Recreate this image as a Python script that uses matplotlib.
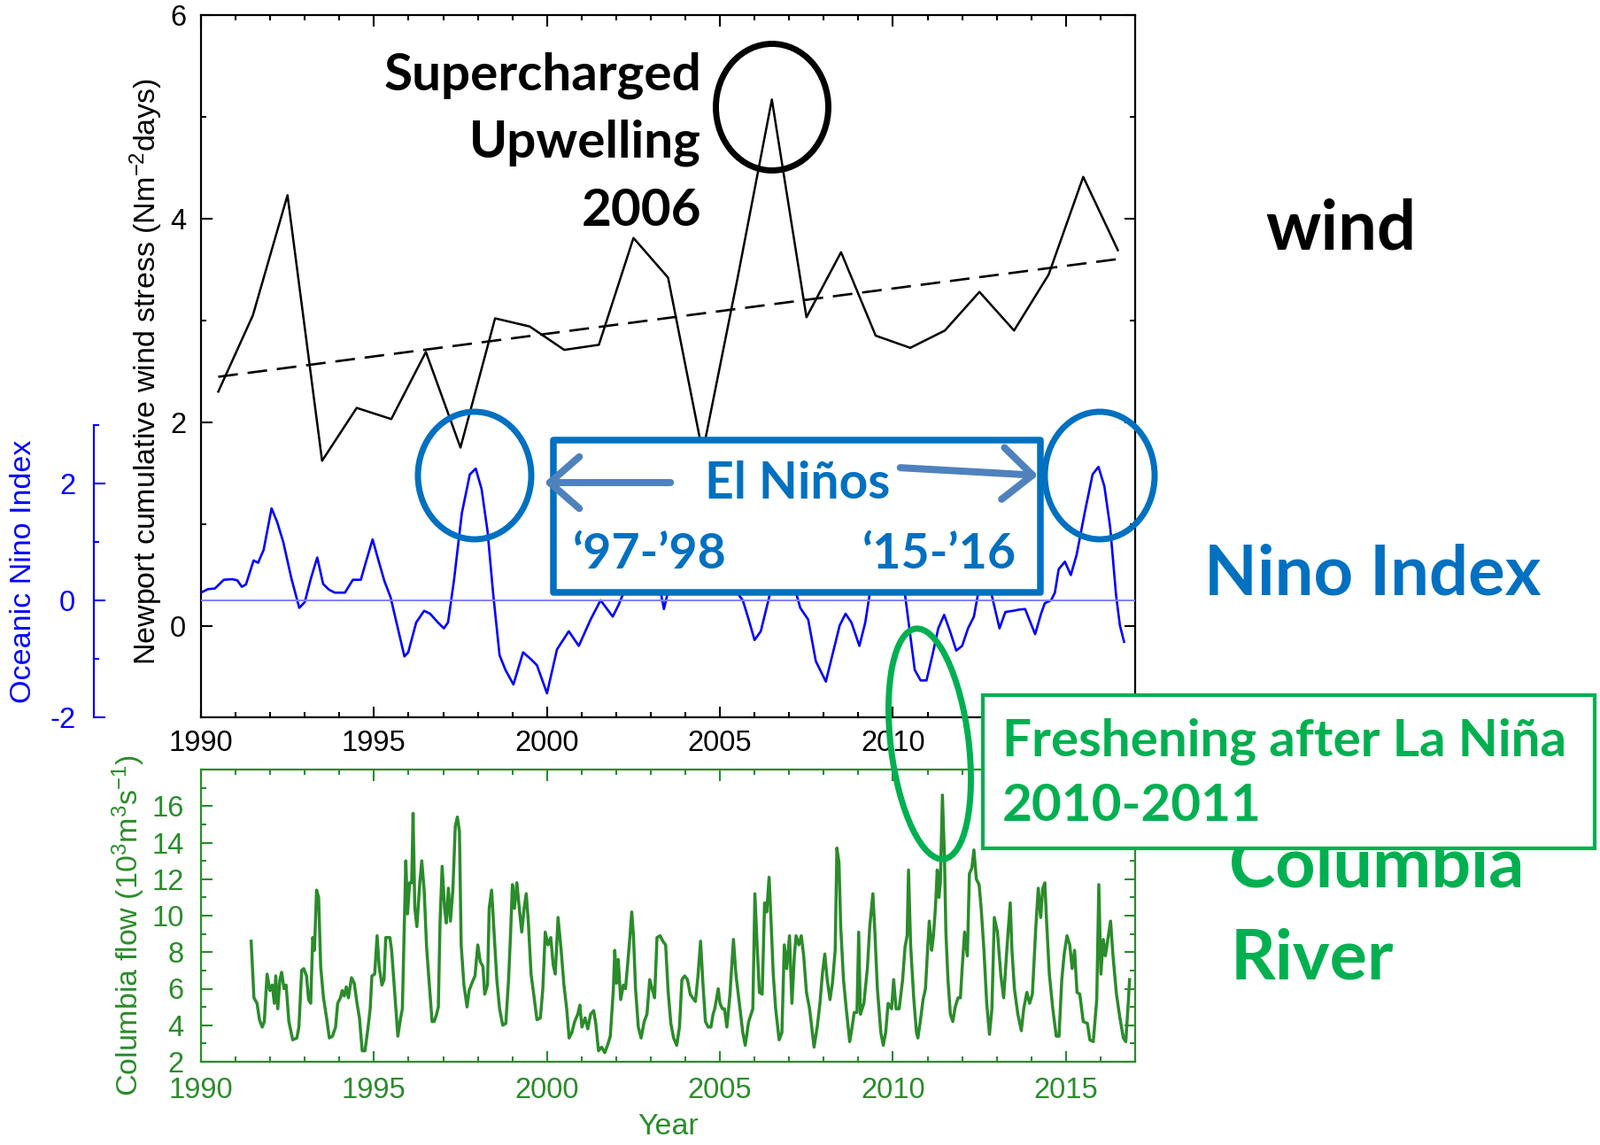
import numpy as np
import matplotlib
matplotlib.use('Agg')
import matplotlib.pyplot as plt
from matplotlib.patches import Ellipse, Rectangle, FancyArrowPatch, ArrowStyle

# ---------------- data ----------------
# annual cumulative wind stress at Newport, plotted at mid-year
wind_years = [1990, 1991, 1992, 1993, 1994, 1995, 1996, 1997, 1998, 1999,
              2000, 2001, 2002, 2003, 2004, 2005, 2006, 2007, 2008, 2009,
              2010, 2011, 2012, 2013, 2014, 2015, 2016]
wind_vals = [2.30, 3.05, 4.23, 1.62, 2.14, 2.03, 2.69, 1.75, 3.02, 2.94,
             2.71, 2.76, 3.81, 3.42, 1.70, 3.40, 5.17, 3.03, 3.67, 2.85,
             2.73, 2.90, 3.28, 2.90, 3.45, 4.41, 3.69]

# Oceanic Nino Index
nino_year = [1990.0, 1990.2, 1990.4, 1990.66, 1990.9, 1991.05, 1991.18, 1991.3, 1991.52, 1991.65,
             1991.81, 1992.04, 1992.2, 1992.38, 1992.61, 1992.84, 1993.0, 1993.18, 1993.36, 1993.53,
             1993.7, 1993.87, 1994.16, 1994.39, 1994.62, 1994.73, 1994.96, 1995.13, 1995.3, 1995.48,
             1995.65, 1995.88, 1995.99, 1996.22, 1996.45, 1996.62, 1996.85, 1997.02, 1997.14, 1997.31,
             1997.54, 1997.77, 1997.94, 1998.11, 1998.28, 1998.45, 1998.63, 1998.8, 1999.03, 1999.31,
             1999.54, 1999.71, 2000.0, 2000.29, 2000.63, 2000.92, 2001.26, 2001.55, 2001.9, 2002.07,
             2002.3, 2002.6, 2002.9, 2003.15, 2003.3, 2003.38, 2003.5, 2003.8, 2004.2, 2004.6,
             2004.9, 2005.2, 2005.49, 2005.66, 2005.83, 2006.0, 2006.18, 2006.4, 2006.6, 2006.9,
             2007.1, 2007.2, 2007.32, 2007.55, 2007.77, 2008.06, 2008.29, 2008.46, 2008.63, 2008.8,
             2009.03, 2009.2, 2009.32, 2009.6, 2009.95, 2010.15, 2010.34, 2010.46, 2010.63, 2010.8,
             2010.97, 2011.14, 2011.31, 2011.48, 2011.65, 2011.83, 2012.0, 2012.17, 2012.34, 2012.45,
             2012.65, 2012.85, 2013.08, 2013.25, 2013.48, 2013.65, 2013.82, 2013.94, 2014.11, 2014.28,
             2014.39, 2014.57, 2014.68, 2014.79, 2014.97, 2015.14, 2015.31, 2015.54, 2015.77, 2015.94,
             2016.11, 2016.28, 2016.45, 2016.56, 2016.68]
nino_vals = [0.13, 0.19, 0.20, 0.35, 0.36, 0.34, 0.23, 0.27, 0.68, 0.64,
             0.86, 1.57, 1.34, 0.99, 0.38, -0.13, -0.03, 0.38, 0.73, 0.28,
             0.18, 0.13, 0.13, 0.35, 0.35, 0.58, 1.04, 0.68, 0.33, 0.05,
             -0.38, -0.96, -0.89, -0.38, -0.18, -0.23, -0.38, -0.48, -0.38, 0.33,
             1.49, 2.15, 2.25, 1.90, 1.19, 0.08, -0.94, -1.19, -1.44, -0.89,
             -1.01, -1.11, -1.59, -0.84, -0.53, -0.78, -0.33, 0.00, -0.28, -0.08,
             0.25, 0.80, 1.20, 0.60, 0.10, -0.15, 0.15, 0.35, 0.30, 0.60,
             0.70, 0.50, 0.13, 0.00, -0.33, -0.68, -0.53, 0.00, 0.50, 0.95,
             0.40, 0.13, -0.13, -0.33, -1.04, -1.39, -0.84, -0.43, -0.23, -0.38,
             -0.78, -0.38, 0.08, 0.70, 1.50, 1.00, 0.13, -0.43, -1.19, -1.37,
             -1.37, -0.94, -0.48, -0.25, -0.53, -0.86, -0.78, -0.48, -0.28, 0.08,
             0.30, 0.10, -0.48, -0.20, -0.18, -0.16, -0.15, -0.33, -0.58, -0.23,
             -0.05, 0.00, 0.13, 0.53, 0.66, 0.43, 0.78, 1.49, 2.15, 2.28,
             1.95, 1.24, 0.08, -0.43, -0.71]

# Columbia River flow (10^3 m^3/s), in four chunks
flow_year_a = [1991.45, 1991.53, 1991.62, 1991.69, 1991.77, 1991.83, 1991.91, 1991.99, 1992.06, 1992.12,
               1992.16, 1992.22, 1992.28, 1992.33, 1992.40, 1992.46, 1992.54, 1992.65, 1992.77, 1992.83,
               1992.91, 1992.97, 1993.05, 1993.11, 1993.17, 1993.23, 1993.28, 1993.34, 1993.40, 1993.46,
               1993.54, 1993.63, 1993.71, 1993.80, 1993.89, 1993.95, 1994.03, 1994.08, 1994.14, 1994.20,
               1994.26, 1994.35, 1994.43, 1994.51, 1994.58, 1994.66, 1994.74, 1994.83, 1994.89, 1994.94,
               1995.02, 1995.09, 1995.15, 1995.23, 1995.29, 1995.34, 1995.46, 1995.51, 1995.61, 1995.69,
               1995.77, 1995.82, 1995.88, 1995.92, 1995.97, 1996.03, 1996.09, 1996.13, 1996.18, 1996.24,
               1996.32, 1996.38, 1996.45, 1996.52, 1996.60, 1996.68, 1996.74, 1996.81, 1996.86, 1996.91,
               1996.97, 1997.04, 1997.09, 1997.15, 1997.21, 1997.28, 1997.35, 1997.41, 1997.47, 1997.52,
               1997.60, 1997.69, 1997.75, 1997.83, 1997.92]
flow_val_a = [8.6, 5.5, 5.2, 4.3, 3.9, 4.2, 6.8, 5.9, 6.2, 5.2,
              6.7, 4.9, 6.5, 6.9, 6.0, 6.2, 4.2, 3.2, 3.3, 3.9,
              7.0, 7.1, 6.7, 5.4, 5.2, 8.8, 8.1, 11.4, 11.0, 7.2,
              5.5, 4.4, 3.3, 3.4, 3.9, 5.2, 5.5, 5.9, 5.6, 6.1,
              5.5, 6.6, 6.3, 5.2, 4.4, 2.6, 2.6, 3.9, 4.9, 6.7,
              6.8, 8.9, 7.2, 6.2, 6.5, 8.8, 8.8, 8.1, 5.5, 3.4,
              4.4, 4.9, 9.9, 13.0, 10.1, 11.8, 11.8, 15.6, 10.4, 9.4,
              11.7, 13.0, 11.4, 8.3, 6.2, 4.2, 4.2, 4.6, 5.0, 9.7,
              12.7, 10.4, 9.6, 11.5, 9.7, 11.4, 14.9, 15.4, 14.6, 8.4,
              6.2, 5.0, 5.9, 6.3, 6.7]

flow_year_b = [1998.00, 1998.07, 1998.15, 1998.20, 1998.28, 1998.33, 1998.40, 1998.47, 1998.55, 1998.63,
               1998.72, 1998.81, 1998.89, 1998.95, 1999.00, 1999.06, 1999.13, 1999.20, 1999.27, 1999.34,
               1999.40, 1999.46, 1999.54, 1999.63, 1999.71, 1999.81, 1999.88, 1999.95, 2000.03, 2000.11,
               2000.18, 2000.24, 2000.32, 2000.41, 2000.49, 2000.57, 2000.64, 2000.72, 2000.80, 2000.89,
               2000.95, 2001.01, 2001.10, 2001.18, 2001.26, 2001.35, 2001.41, 2001.49, 2001.58, 2001.67,
               2001.75, 2001.83, 2001.92, 2001.96, 2002.01, 2002.06, 2002.13, 2002.21, 2002.27, 2002.33,
               2002.40, 2002.45, 2002.50, 2002.56, 2002.64, 2002.72, 2002.81, 2002.89, 2002.97, 2003.04,
               2003.11, 2003.18, 2003.27, 2003.35, 2003.43, 2003.50, 2003.58, 2003.66, 2003.75, 2003.83,
               2003.90, 2003.98, 2004.06, 2004.14, 2004.21]
flow_val_b = [8.4, 7.5, 7.2, 5.7, 6.2, 10.4, 11.4, 9.1, 6.5, 4.9,
              4.0, 4.1, 6.5, 9.1, 11.7, 10.4, 11.8, 10.4, 9.1, 10.4,
              11.2, 9.7, 6.8, 5.5, 4.3, 4.4, 6.0, 9.1, 8.4, 8.8,
              7.3, 6.8, 9.9, 8.1, 6.2, 4.9, 3.3, 3.6, 4.2, 4.6,
              5.1, 3.9, 4.4, 3.8, 4.6, 4.8, 4.1, 2.6, 2.8, 2.5,
              2.9, 3.4, 6.0, 8.1, 6.3, 7.6, 5.4, 6.2, 6.0, 7.3,
              8.9, 10.2, 8.9, 6.0, 3.9, 3.3, 4.2, 4.6, 6.5, 6.0,
              5.5, 8.8, 8.9, 8.6, 8.4, 5.9, 4.1, 3.3, 2.9, 3.9,
              6.5, 6.7, 6.5, 5.7, 5.5]

flow_year_c = [2004.29, 2004.36, 2004.44, 2004.51, 2004.58, 2004.66, 2004.74, 2004.80, 2004.85, 2004.95,
               2005.00, 2005.07, 2005.13, 2005.20, 2005.29, 2005.39, 2005.46, 2005.56, 2005.66, 2005.73,
               2005.83, 2005.95, 2006.01, 2006.08, 2006.14, 2006.22, 2006.29, 2006.35, 2006.42, 2006.47,
               2006.54, 2006.61, 2006.71, 2006.79, 2006.86, 2006.93, 2007.01, 2007.08, 2007.15, 2007.20,
               2007.28, 2007.35, 2007.42, 2007.50, 2007.59, 2007.72, 2007.81, 2007.89, 2007.96, 2008.03,
               2008.10, 2008.18, 2008.25, 2008.33, 2008.38, 2008.44, 2008.49, 2008.57, 2008.65, 2008.75,
               2008.82, 2008.88, 2008.96, 2009.01, 2009.06, 2009.16, 2009.26, 2009.33, 2009.42, 2009.47,
               2009.55, 2009.65, 2009.72, 2009.79, 2009.86, 2009.96, 2010.02, 2010.09, 2010.18, 2010.28,
               2010.35, 2010.41, 2010.45, 2010.51, 2010.60, 2010.68, 2010.72, 2010.79, 2010.87, 2010.94]
flow_val_c = [5.3, 6.6, 8.6, 6.2, 4.2, 3.9, 3.9, 4.6, 4.9, 6.0,
              5.2, 4.9, 4.9, 3.9, 5.7, 8.7, 6.8, 5.2, 3.6, 2.9,
              4.2, 4.9, 11.2, 8.1, 5.8, 5.7, 10.7, 10.2, 12.1, 10.0,
              6.8, 4.9, 3.2, 3.6, 8.4, 7.1, 8.9, 5.2, 7.8, 8.9,
              8.4, 8.9, 7.8, 5.8, 4.9, 2.8, 3.9, 5.2, 6.8, 7.9,
              6.5, 5.4, 6.3, 8.1, 13.7, 12.9, 9.4, 6.5, 4.9, 3.1,
              3.9, 4.7, 4.7, 9.1, 4.6, 5.2, 7.1, 9.4, 11.2, 9.4,
              6.0, 3.6, 2.9, 3.6, 5.2, 4.9, 6.5, 4.9, 4.9, 6.5,
              8.3, 8.9, 12.5, 8.4, 5.5, 3.6, 3.3, 4.2, 5.4, 6.0]

flow_year_d = [2011.00, 2011.05, 2011.12, 2011.17, 2011.23, 2011.28, 2011.33, 2011.37, 2011.43, 2011.49,
               2011.53, 2011.59, 2011.66, 2011.73, 2011.80, 2011.88, 2011.95, 2012.00, 2012.07, 2012.15,
               2012.21, 2012.28, 2012.34, 2012.41, 2012.49, 2012.55, 2012.63, 2012.71, 2012.79, 2012.86,
               2012.93, 2013.02, 2013.12, 2013.20, 2013.29, 2013.39, 2013.44, 2013.51, 2013.61, 2013.71,
               2013.78, 2013.87, 2013.95, 2014.03, 2014.13, 2014.20, 2014.27, 2014.33, 2014.39, 2014.44,
               2014.52, 2014.62, 2014.72, 2014.80, 2014.88, 2014.95, 2015.03, 2015.11, 2015.18, 2015.25,
               2015.32, 2015.40, 2015.50, 2015.62, 2015.69, 2015.79, 2015.89, 2015.95, 2016.01, 2016.08,
               2016.14, 2016.21, 2016.29, 2016.36, 2016.46, 2016.56, 2016.66, 2016.73, 2016.79, 2016.84]
flow_val_d = [8.1, 9.7, 8.1, 8.9, 10.5, 12.5, 11.0, 11.8, 16.6, 13.1,
              9.1, 6.5, 4.6, 4.2, 5.0, 5.5, 5.5, 7.1, 9.1, 7.8,
              12.3, 12.6, 13.6, 12.0, 11.7, 10.4, 8.1, 5.2, 3.5, 4.9,
              9.9, 9.1, 6.7, 5.5, 8.1, 10.7, 8.1, 6.0, 4.6, 3.7,
              4.9, 5.8, 5.2, 5.7, 9.4, 11.5, 9.9, 11.5, 11.8, 9.7,
              6.8, 4.9, 3.4, 3.4, 6.5, 7.9, 8.9, 8.4, 7.1, 8.1,
              5.8, 5.7, 4.2, 4.1, 3.2, 3.1, 5.4, 11.7, 6.8, 8.7,
              7.8, 8.7, 9.7, 7.8, 5.7, 4.4, 3.3, 3.1, 4.9, 6.5]

flow_year = flow_year_a + flow_year_b + flow_year_c + flow_year_d
flow_vals = flow_val_a + flow_val_b + flow_val_c + flow_val_d

top_xlabels = ['1990', '1995', '2000', '2005', '2010', '']   # 2015 sits under the green box
bot_xlabels = ['1990', '1995', '2000', '2005', '2010', '2015']

# ---------------- style ----------------
W, H = 1807, 1293
plt.rcParams['font.family'] = ['Liberation Sans', 'DejaVu Sans']
plt.rcParams['mathtext.fontset'] = 'custom'
plt.rcParams['mathtext.rm'] = 'Liberation Sans'
plt.rcParams['mathtext.it'] = 'Liberation Sans:italic'
plt.rcParams['lines.scale_dashes'] = False
plt.rcParams['axes.unicode_minus'] = False

BLUE_TXT = '#0070C0'
GREEN_TXT = '#00B050'
ARROW = '#4F81BD'
FLOW_GREEN = '#2A8C2A'
TICK_FS = 23.5
LAB_FS = 24.5

fig = plt.figure(figsize=(W / 100, H / 100), dpi=100)


def fbox(x0, y0, x1, y1):
    # pixel box with top-left origin -> figure fraction rect
    return [x0 / W, 1 - y1 / H, (x1 - x0) / W, (y1 - y0) / H]


# ---------------- top panel: wind + nino ----------------
ax = fig.add_axes(fbox(227, 17, 1282, 810))
wx = np.array(wind_years) + 0.5
ax.plot(wx, wind_vals, color='black', lw=1.8)
coef = np.polyfit(wx, wind_vals, 1)
ax.plot(wx, np.polyval(coef, wx), color='black', lw=1.9, dashes=(16, 8))
ax.set_xlim(1990, 2017)
ax.set_ylim(-0.9, 6)
ax.set_xticks(range(1990, 2016, 5))
ax.set_xticklabels(top_xlabels)
ax.set_xticks(range(1990, 2018), minor=True)
ax.set_yticks([0, 2, 4, 6])
ax.set_yticks([1, 3, 5], minor=True)
ax.set_ylabel('Newport cumulative wind stress (Nm$^{-2}$days)', fontsize=LAB_FS, va='center')
ax.yaxis.set_label_coords(-0.0588, 0.492)
for s in ax.spines.values():
    s.set_linewidth(1.6)

ax2 = ax.twinx()
ax2.plot(nino_year, nino_vals, color='blue', lw=1.9)
ax2.axhline(0, color='#7f7fff', lw=1.4)
ax2.set_ylim(-2, 10)
ax2.set_yticks([-2, 0, 2])
ax2.set_yticks([-1, 1, 3], minor=True)
for k in ['right', 'top', 'bottom']:
    ax2.spines[k].set_visible(False)
ax2.spines['left'].set_position(('outward', 87))
ax2.spines['left'].set_bounds(-2, 3)
ax2.spines['left'].set_color('blue')
ax2.spines['left'].set_linewidth(1.6)
ax2.yaxis.tick_left()
ax2.yaxis.set_label_position('left')
ax2.tick_params(axis='y', which='both', direction='in', colors='blue', width=1.5,
                labelsize=TICK_FS, pad=15)
ax2.tick_params(axis='y', which='major', length=9)
ax2.tick_params(axis='y', which='minor', length=4.5)
ax2.set_ylabel('Oceanic Nino Index', fontsize=LAB_FS, color='blue', va='center')
ax2.yaxis.set_label_coords(-0.1905, 0.208)

ax.tick_params(which='both', direction='in', top=True, right=True, left=True, bottom=True,
               width=1.5, labelsize=TICK_FS)
ax.tick_params(which='major', length=9)
ax.tick_params(which='minor', length=4.5)
ax.tick_params(axis='y', pad=12)
ax.tick_params(axis='x', pad=10)

# ---------------- bottom panel: Columbia flow ----------------
bx = fig.add_axes(fbox(227, 869, 1282, 1199))
bx.plot(flow_year, flow_vals, color=FLOW_GREEN, lw=2.5)
bx.set_xlim(1990, 2017)
bx.set_ylim(2, 18)
bx.set_xticks(range(1990, 2016, 5))
bx.set_xticklabels(bot_xlabels)
bx.set_xticks(range(1990, 2018), minor=True)
bx.set_yticks(range(2, 17, 2))
bx.set_yticks(range(2, 19), minor=True)
for s in bx.spines.values():
    s.set_color(FLOW_GREEN)
    s.set_linewidth(1.6)
bx.tick_params(which='both', direction='in', top=True, right=True, colors=FLOW_GREEN,
               width=1.5, labelsize=TICK_FS)
bx.tick_params(which='major', length=9)
bx.tick_params(which='minor', length=4.5)
bx.tick_params(axis='y', pad=14)
bx.tick_params(axis='x', pad=12)
bx.set_ylabel('Columbia flow (10$^3$m$^3$s$^{-1}$)', fontsize=LAB_FS, color=FLOW_GREEN, va='center')
bx.yaxis.set_label_coords(-0.0777, 0.467)
bx.set_xlabel('Year', fontsize=LAB_FS, color=FLOW_GREEN, va='center')
bx.xaxis.set_label_coords(0.5, -0.224)

# ---------------- annotation overlay (pixel units, top-left origin) ----------------
ov = fig.add_axes([0, 0, 1, 1])
ov.set_xlim(0, W)
ov.set_ylim(H, 0)
ov.axis('off')
ann = dict(family=['Lato', 'DejaVu Sans'], weight='bold')

for txt, yb in [('Supercharged', 102), ('Upwelling', 178), ('2006', 255)]:
    ov.text(792, yb, txt, ha='right', va='baseline', fontsize=42, color='black', **ann)
ov.add_patch(Ellipse((872, 121), 127, 143, fill=False, ec='black', lw=5))

ov.text(1429, 282, 'wind', ha='left', va='baseline', fontsize=56, color='black', **ann)
ov.text(1360, 671, 'Nino Index', ha='left', va='baseline', fontsize=56, color=BLUE_TXT, **ann)
ov.text(1388, 1002, 'Columbia', ha='left', va='baseline', fontsize=57, color=GREEN_TXT,
        zorder=1, **ann)
ov.text(1390, 1105, 'River', ha='left', va='baseline', fontsize=57, color=GREEN_TXT,
        zorder=1, **ann)

# El Nino box
ov.add_patch(Rectangle((625.5, 496.5), 550, 172.5, fc='white', ec=BLUE_TXT, lw=5.4,
                       joinstyle='round', zorder=2))
ov.text(796, 563, 'El Niños', ha='left', va='baseline', fontsize=41, color=BLUE_TXT,
        zorder=3, **ann)
ov.text(647, 642, '\u201897-\u201998', ha='left', va='baseline', fontsize=40, color=BLUE_TXT,
        zorder=3, **ann)
ov.text(1148, 642, '\u201815-\u201916', ha='right', va='baseline', fontsize=40, color=BLUE_TXT,
        zorder=3, **ann)
head = ArrowStyle('->', head_length=24, head_width=21)
ov.add_patch(FancyArrowPatch((760, 545), (612, 545), arrowstyle=head, mutation_scale=1,
                             color=ARROW, lw=5.8, capstyle='round', joinstyle='round', zorder=4))
ov.add_patch(FancyArrowPatch((1014, 528), (1175, 537), arrowstyle=head, mutation_scale=1,
                             color=ARROW, lw=5.8, capstyle='round', joinstyle='round', zorder=4))
ov.add_patch(Ellipse((536, 537), 128, 144, fill=False, ec=BLUE_TXT, lw=5, zorder=4))
ov.add_patch(Ellipse((1242, 537), 124, 144, fill=False, ec=BLUE_TXT, lw=5, zorder=4))

# La Nina freshening
ov.add_patch(Ellipse((1050, 840), 88, 262, angle=-7, fill=False, ec=GREEN_TXT, lw=5, zorder=4))
ov.add_patch(Rectangle((1110, 785), 691, 173, fc='white', ec=GREEN_TXT, lw=3, zorder=2))
ov.text(1132, 853, 'Freshening after La Niña', ha='left', va='baseline', fontsize=42,
        color=GREEN_TXT, zorder=3, **ann)
ov.text(1132, 927, '2010-2011', ha='left', va='baseline', fontsize=42,
        color=GREEN_TXT, zorder=3, **ann)

fig.savefig('out.png', dpi=100)
